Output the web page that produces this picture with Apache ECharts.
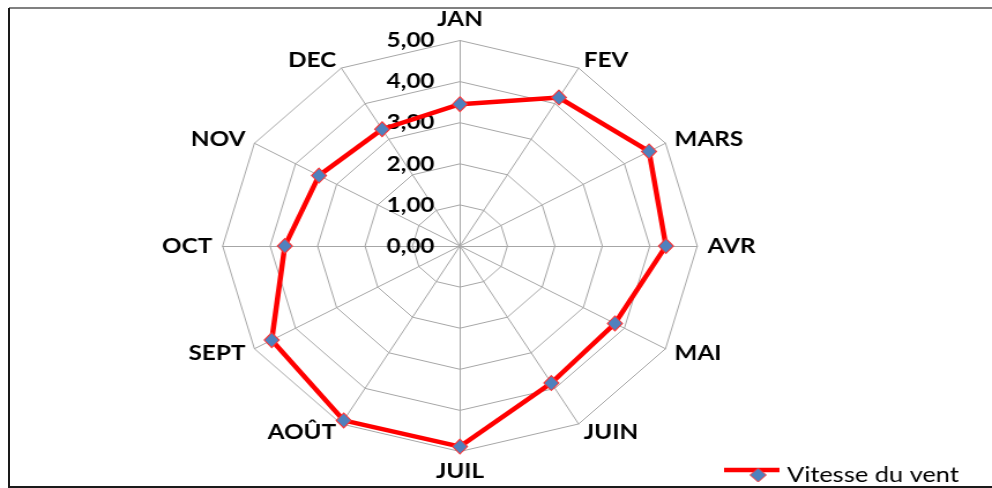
<!DOCTYPE html>
<html>
<head>
<meta charset="utf-8">
<script src="https://cdn.jsdelivr.net/npm/echarts@6/dist/echarts.min.js"></script>
<style>
    html, body { margin: 0; padding: 0; background: #fff; }
    .frame { position: relative; width: 992px; height: 488px; overflow: hidden; }
    .line-top { position: absolute; left: 9px; top: 7px; width: 983px; height: 2px; background: #808080; }
    .line-left { position: absolute; left: 8px; top: 8px; width: 2px; height: 480px; background: #1a1a1a; }
    .line-bottom { position: absolute; left: 9px; top: 486px; width: 983px; height: 2px; background: #1a1a1a; }
    /* the source picture is stretched sideways, so the chart is too */
    #wind-chart-box { position: absolute; left: 0; top: 0; width: 859px; height: 488px;
        transform: scaleX(1.1548); transform-origin: 0 0; }
</style>
</head>
<body>
<div class="frame">
    <div class="line-top"></div>
    <div class="line-left"></div>
    <div class="line-bottom"></div>
    <div id="wind-chart-box"></div>
</div>
<script>
// mois, dans l'ordre du tableau Excel
var months = ['JAN', 'FEV', 'MARS', 'AVR', 'MAI', 'JUIN', 'JUIL', 'AOÛT', 'SEPT', 'OCT', 'NOV', 'DEC'];
// vitesse du vent moyenne
var windSpeed = [3.45, 4.17, 4.60, 4.34, 3.77, 3.85, 4.88, 4.90, 4.58, 3.69, 3.43, 3.28];
var tickLabels = ['0,00', '1,00', '2,00', '3,00', '4,00', '5,00'];
var seriesName = 'Vitesse du vent';

// echarts tourne dans le sens inverse des aiguilles, Excel dans le sens horaire
var order = [0];
for (var i = months.length - 1; i > 0; i--) {
    order.push(i);
}

var indicators = order.map(function(idx) {
    var ind = { name: months[idx], max: 5, min: 0 };
    if (idx === 0) {
        ind.axisLabel = {
            show: true,
            margin: 22,
            color: '#000',
            fontFamily: 'Lato',
            fontWeight: 'bold',
            fontSize: 21,
            formatter: function(v) {
                return tickLabels[Math.round(v)];
            }
        };
    }
    return ind;
});
var values = order.map(function(idx) {
    return windSpeed[idx];
});

var myChart = echarts.init(document.getElementById('wind-chart-box'));
var option = {
    animation: false,
    legend: {
        data: [seriesName],
        left: 644,
        top: 459,
        icon: 'diamond',
        itemWidth: 14,
        itemHeight: 14,
        itemStyle: {
            color: '#4f81bd',
            borderColor: '#ff3030',
            borderWidth: 1
        },
        textStyle: {
            color: '#000',
            fontFamily: 'Lato',
            fontSize: 22,
            lineHeight: 22,
            padding: [0, 0, 0, 13]
        }
    },
    graphic: [{
        type: 'line',
        z: 0,
        shape: { x1: 627, y1: 470, x2: 675, y2: 470 },
        style: { stroke: '#ff0000', lineWidth: 4.5 }
    }],
    radar: {
        center: [398.3, 246],
        radius: 205.5,
        splitNumber: 5,
        shape: 'polygon',
        nameGap: 9,
        axisName: {
            color: '#000',
            fontFamily: 'Lato',
            fontWeight: 'bold',
            fontSize: 21
        },
        indicator: indicators,
        axisLine: {
            lineStyle: { color: '#a6a6a6', width: 1 }
        },
        splitLine: {
            lineStyle: { color: '#a6a6a6', width: 1 }
        },
        splitArea: { show: false },
        axisLabel: { show: false }
    },
    series: [{
        name: seriesName,
        type: 'radar',
        data: [{
            value: values,
            name: seriesName
        }],
        symbol: 'diamond',
        symbolSize: [13, 15],
        itemStyle: {
            color: '#4f81bd',
            borderColor: '#ff3030',
            borderWidth: 1
        },
        lineStyle: {
            color: '#ff0000',
            width: 4.5
        },
        z: 3
    }]
};
myChart.setOption(option);
</script>
</body>
</html>
